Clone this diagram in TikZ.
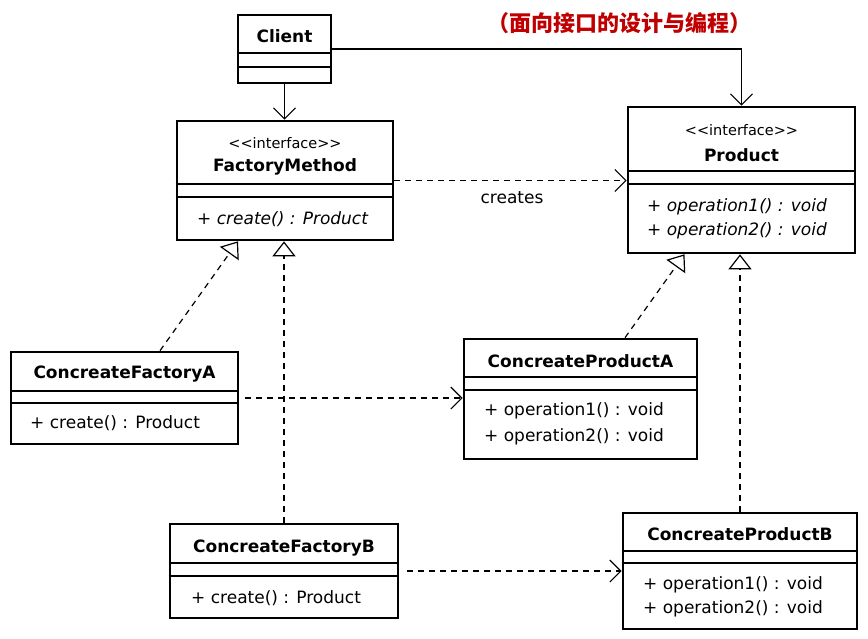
\documentclass[tikz,border=0pt]{standalone}
\usepackage{fontspec}
\setmainfont{DejaVu Sans}
\newfontfamily\cjkfont{Noto Sans CJK SC}
\usetikzlibrary{arrows.meta,calc,positioning}
\definecolor{umlink}{HTML}{000000}
\definecolor{titlered}{HTML}{C00000}
\newcommand{\umlstereo}[1]{<\kern0pt<#1>\kern0pt>}
\tikzset{
  umlclass/.style={
    draw=umlink,
    fill=white,
    line width=2.6pt,
    inner sep=0pt
  },
  divider/.style={draw=umlink, line width=1.4pt},
  classname/.style={font=\fontsize{17}{20}\selectfont\bfseries, inner sep=0pt},
  stereotype/.style={font=\fontsize{14.5}{16}\selectfont, inner sep=0pt},
  member/.style={font=\fontsize{17}{20}\selectfont, inner sep=0pt, anchor=west},
  assoc/.style={
    draw=umlink,
    line width=1.2pt,
    -{Straight Barb[length=11pt,width=22pt,line width=1.2pt]}
  },
  depend/.style={assoc, dash pattern=on 6pt off 5pt},
  realize/.style={
    draw=umlink,
    line width=1.2pt,
    dash pattern=on 6pt off 5pt,
    -{Triangle[open,length=15pt,width=23pt,line width=1.2pt,fill=white]}
  },
  edgelabel/.style={font=\fontsize{17}{20}\selectfont, inner sep=1pt}
}

\begin{document}
\begin{tikzpicture}[x=1pt,y=-1pt]
  \path[use as bounding box] (0,0) rectangle (868,638);

  \node[font=\cjkfont\bfseries\fontsize{22}{24}\selectfont, text=titlered] (heading)
    at (619,23) {（面向接口的设计与编程）};

  % Client
  \node[umlclass, minimum width=93pt, minimum height=68pt] (client) at (284.5,49) {};
  \node[classname] (clientname) at (284.5,36) {Client};
  \draw[divider] (client.west |- 0,53) -- (client.east |- 0,53);
  \draw[divider] (client.west |- 0,67) -- (client.east |- 0,67);

  % FactoryMethod
  \node[umlclass, minimum width=216pt, minimum height=119pt] (fm) at (285,180.5) {};
  \node[stereotype] (fmstereo) at (285,143) {\umlstereo{interface}};
  \node[classname] (fmname) at (285,167) {FactoryMethod};
  \draw[divider] (fm.west |- 0,184) -- (fm.east |- 0,184);
  \draw[divider] (fm.west |- 0,197) -- (fm.east |- 0,197);
  \node[member] (fmop) at (197,219) {\itshape + create() : Product};

  % Product
  \node[umlclass, minimum width=227pt, minimum height=146pt] (product) at (741.5,180) {};
  \node[stereotype] (prodstereo) at (741.5,130) {\umlstereo{interface}};
  \node[classname] (prodname) at (741.5,155) {Product};
  \draw[divider] (product.west |- 0,171) -- (product.east |- 0,171);
  \draw[divider] (product.west |- 0,184) -- (product.east |- 0,184);
  \node[member] (prodopa) at (647,207) {\itshape + operation1() : void};
  \node[member] (prodopb) at (647,231) {\itshape + operation2() : void};

  % ConcreateFactoryA
  \node[umlclass, minimum width=227pt, minimum height=92pt] (cfa) at (124.5,398) {};
  \node[classname] (cfaname) at (124.5,374) {ConcreateFactoryA};
  \draw[divider] (cfa.west |- 0,391) -- (cfa.east |- 0,391);
  \draw[divider] (cfa.west |- 0,403) -- (cfa.east |- 0,403);
  \node[member] (cfaop) at (30,423) {+ create() : Product};

  % ConcreateProductA
  \node[umlclass, minimum width=233pt, minimum height=120pt] (cpa) at (580.5,399) {};
  \node[classname] (cpaname) at (580.5,361) {ConcreateProductA};
  \draw[divider] (cpa.west |- 0,377) -- (cpa.east |- 0,377);
  \draw[divider] (cpa.west |- 0,390) -- (cpa.east |- 0,390);
  \node[member] (cpaopa) at (484,411) {+ operation1() : void};
  \node[member] (cpaopb) at (484,437) {+ operation2() : void};

  % ConcreateFactoryB
  \node[umlclass, minimum width=228pt, minimum height=94pt] (cfb) at (284,571) {};
  \node[classname] (cfbname) at (284,548) {ConcreateFactoryB};
  \draw[divider] (cfb.west |- 0,563) -- (cfb.east |- 0,563);
  \draw[divider] (cfb.west |- 0,576) -- (cfb.east |- 0,576);
  \node[member] (cfbop) at (191,598) {+ create() : Product};

  % ConcreateProductB
  \node[umlclass, minimum width=234pt, minimum height=116pt] (cpb) at (740,571) {};
  \node[classname] (cpbname) at (740,534) {ConcreateProductB};
  \draw[divider] (cpb.west |- 0,551) -- (cpb.east |- 0,551);
  \draw[divider] (cpb.west |- 0,563) -- (cpb.east |- 0,563);
  \node[member] (cpbopa) at (643,585) {+ operation1() : void};
  \node[member] (cpbopb) at (643,609) {+ operation2() : void};

  % associations
  \draw[assoc] (client.east) -| (product.north);
  \draw[assoc] (client.south) -- (client.south |- fm.north);

  % dependencies
  \draw[depend] (fm.east) -- (product.west |- fm.east);
  \node[edgelabel] (createslabel) at (512,198) {creates};
  \draw[depend, shorten <=6pt] (cfa.east) -- (cfa.east -| cpa.west);
  \draw[depend, shorten <=8pt] (cfb.east) -- (cfb.east -| cpb.west);

  % realizations
  \draw[realize] ($(cfa.north)+(35.5,0)$) -- ($(fm.south)+(-47,0)$);
  \draw[realize] (cfb.north) -- (cfb.north |- fm.south);
  \draw[realize] ($(cpa.north)+(44.5,0)$) -- ($(product.south)+(-57,0)$);
  \draw[realize] (cpb.north) -- (cpb.north |- product.south);
\end{tikzpicture}
\end{document}
